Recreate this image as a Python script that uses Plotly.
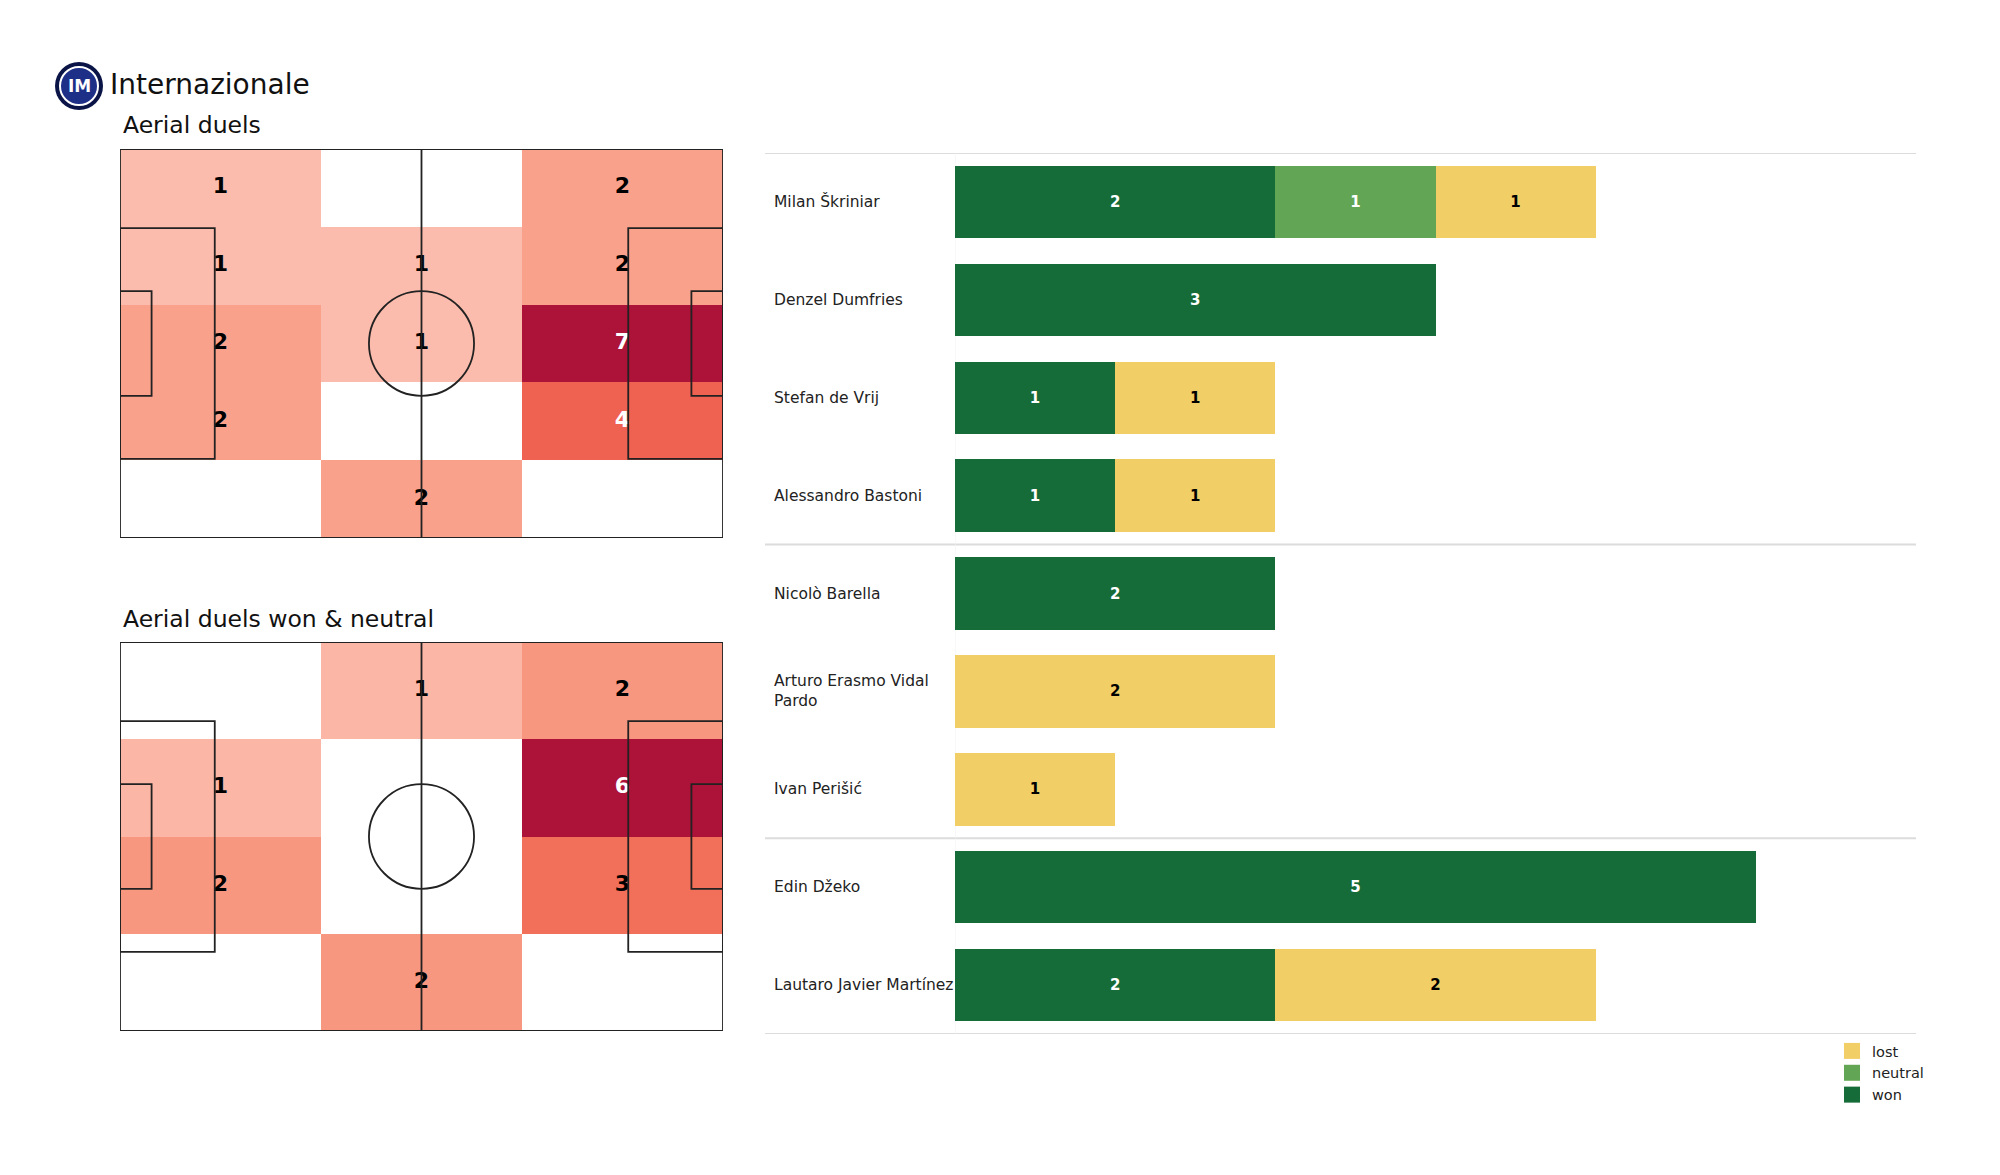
import textwrap
import numpy as np
import plotly.graph_objects as go

# ---------------- data ----------------
team = "Internazionale"
title_heat1 = "Aerial duels"
title_heat2 = "Aerial duels won & neutral"

# heatmap counts, rows listed top -> bottom, columns left -> right
duels_all = [
    [1, 0, 2],
    [1, 1, 2],
    [2, 1, 7],
    [2, 0, 4],
    [0, 2, 0],
]
duels_won_neutral = [
    [0, 1, 2],
    [1, 0, 6],
    [2, 0, 3],
    [0, 2, 0],
]

players = [
    "Milan Škriniar",
    "Denzel Dumfries",
    "Stefan de Vrij",
    "Alessandro Bastoni",
    "Nicolò Barella",
    "Arturo Erasmo Vidal Pardo",
    "Ivan Perišić",
    "Edin Džeko",
    "Lautaro Javier Martínez",
]
won = [2, 3, 1, 1, 2, 0, 0, 5, 2]
neutral = [1, 0, 0, 0, 0, 0, 0, 0, 0]
lost = [1, 0, 1, 1, 0, 2, 1, 0, 2]
group_sizes = [4, 3, 2]

# ---------------- styling ----------------
W, H = 2000, 1175
PAGE_OFF = 8  # body margin of the html page
FONT = "DejaVu Sans"
COL_WON = "#166c38"
COL_NEUTRAL = "#62a655"
COL_LOST = "#f1cf66"
PITCH_LEN, PITCH_WID = 105.0, 68.0
LINE_COL = "#222222"
HEAT_SCALE = [
    [0.0, "#fff1ec"],
    [0.15, "#fcb9aa"],
    [0.31, "#f99d85"],
    [0.5, "#f27059"],
    [0.571, "#ef6150"],
    [1.0, "#ad1238"],
]


def px_x(x):
    return (x - PAGE_OFF) / W


def px_y(y):
    return 1 - (y - PAGE_OFF) / H


fig = go.Figure()
shapes = []
annotations = []


def add_pitch(matrix, xa, ya):
    m = np.array(matrix, dtype=float)
    nrows, ncols = m.shape
    xe = np.linspace(0, PITCH_LEN, ncols + 1)
    ye = np.linspace(0, PITCH_WID, nrows + 1)
    z = m[::-1]  # rows given top->bottom; heatmap rows go bottom->top
    zmask = np.where(z > 0, z, np.nan)
    zmax = np.nanmax(zmask)
    fig.add_trace(go.Heatmap(
        x=xe, y=ye, z=zmask, zmin=0, zmax=zmax,
        colorscale=HEAT_SCALE, showscale=False, hoverinfo="skip",
        xaxis=xa, yaxis=ya,
    ))
    xc = (xe[:-1] + xe[1:]) / 2
    yc = (ye[:-1] + ye[1:]) / 2
    tx, ty, tt, tc = [], [], [], []
    for r in range(nrows):
        for c in range(ncols):
            v = z[r, c]
            if v > 0:
                tx.append(xc[c]); ty.append(yc[r]); tt.append(str(int(v)))
                tc.append("white" if v > 0.5 * zmax else "black")
    fig.add_trace(go.Scatter(
        x=tx, y=ty, text=tt, mode="text",
        textfont=dict(family=FONT, size=22, color=tc, weight="bold"),
        hoverinfo="skip", showlegend=False, xaxis=xa, yaxis=ya,
    ))
    L, Wd = PITCH_LEN, PITCH_WID
    line = dict(color=LINE_COL, width=1.8)
    xr, yr = xa, ya
    shapes.append(dict(type="rect", xref=xr, yref=yr, x0=0, x1=L, y0=0, y1=Wd, line=line))
    shapes.append(dict(type="line", xref=xr, yref=yr, x0=L / 2, x1=L / 2, y0=0, y1=Wd, line=line))
    shapes.append(dict(type="circle", xref=xr, yref=yr, x0=L / 2 - 9.15, x1=L / 2 + 9.15,
                       y0=Wd / 2 - 9.15, y1=Wd / 2 + 9.15, line=line))
    for (a, b) in [(0, 16.5), (L - 16.5, L)]:
        shapes.append(dict(type="rect", xref=xr, yref=yr, x0=a, x1=b,
                           y0=Wd / 2 - 20.16, y1=Wd / 2 + 20.16, line=line))
    for (a, b) in [(0, 5.5), (L - 5.5, L)]:
        shapes.append(dict(type="rect", xref=xr, yref=yr, x0=a, x1=b,
                           y0=Wd / 2 - 9.16, y1=Wd / 2 + 9.16, line=line))


add_pitch(duels_all, "x", "y")
add_pitch(duels_won_neutral, "x2", "y2")

# ---------------- bars ----------------
ypos = list(range(len(players)))
bar_specs = [
    ("won", won, COL_WON, "white"),
    ("neutral", neutral, COL_NEUTRAL, "white"),
    ("lost", lost, COL_LOST, "black"),
]
for name, vals, col, tcol in bar_specs:
    fig.add_trace(go.Bar(
        y=ypos, x=vals, orientation="h", width=0.74, name=name, showlegend=False,
        marker=dict(color=col, line=dict(width=0)),
        text=[str(v) if v else "" for v in vals],
        textposition="inside", insidetextanchor="middle", textangle=0,
        textfont=dict(family=FONT, size=15, color=tcol, weight="bold"),
        hoverinfo="skip", xaxis="x3", yaxis="y3",
    ))
# legend entries (square swatches), order lost, neutral, won
for name, vals, col, tcol in reversed(bar_specs):
    fig.add_trace(go.Scatter(
        x=[None], y=[None], mode="markers", name=name,
        marker=dict(symbol="square", size=16, color=col),
        xaxis="x3", yaxis="y3", hoverinfo="skip",
    ))

# separators
bounds = [-0.5] + list(np.cumsum(group_sizes) - 0.5)
for b in bounds:
    shapes.append(dict(type="line", xref="paper", yref="y3", x0=px_x(765), x1=px_x(1916),
                       y0=b, y1=b, line=dict(color="#dcdcdc", width=2), layer="below"))
shapes.append(dict(type="line", xref="x3", yref="y3", x0=0, x1=0, y0=-0.5, y1=len(players) - 0.5,
                   line=dict(color="#f2f2f2", width=1), layer="below"))

for i, p in enumerate(players):
    label = "<br>".join(textwrap.wrap(p, 23))
    annotations.append(dict(text=label, xref="paper", yref="y3", x=px_x(772), y=i,
                            xanchor="left", yanchor="middle", align="left", showarrow=False,
                            font=dict(family=FONT, size=15.5, color="#222222")))

# ---------------- titles & logo ----------------
annotations.append(dict(text=team, xref="paper", yref="paper", x=px_x(108), y=px_y(84),
                        xanchor="left", yanchor="middle", showarrow=False,
                        font=dict(family=FONT, size=28, color="#111111")))
annotations.append(dict(text=title_heat1, xref="paper", yref="paper", x=px_x(121), y=px_y(125),
                        xanchor="left", yanchor="middle", showarrow=False,
                        font=dict(family=FONT, size=23.5, color="#111111")))
annotations.append(dict(text=title_heat2, xref="paper", yref="paper", x=px_x(121), y=px_y(619),
                        xanchor="left", yanchor="middle", showarrow=False,
                        font=dict(family=FONT, size=23.5, color="#111111")))

cx, cy = 79, 86
for r, fill, lc, lw in [(24, "#0b1446", "#0b1446", 0), (19, "#1d2f86", "white", 2)]:
    shapes.append(dict(type="circle", xref="paper", yref="paper",
                       x0=px_x(cx - r), x1=px_x(cx + r), y0=px_y(cy + r), y1=px_y(cy - r),
                       fillcolor=fill, line=dict(color=lc, width=lw)))
annotations.append(dict(text="IM", xref="paper", yref="paper", x=px_x(cx), y=px_y(cy),
                        xanchor="center", yanchor="middle", showarrow=False,
                        font=dict(family=FONT, size=17, color="white", weight="bold")))

# ---------------- layout ----------------
ax_off = dict(visible=False, fixedrange=True)
fig.update_layout(
    width=W, height=H, margin=dict(l=0, r=0, t=0, b=0),
    paper_bgcolor="white", plot_bgcolor="rgba(0,0,0,0)",
    barmode="stack",
    xaxis=dict(domain=[px_x(120), px_x(723)], range=[0, PITCH_LEN], anchor="y", **ax_off),
    yaxis=dict(domain=[px_y(538), px_y(149)], range=[0, PITCH_WID], anchor="x", **ax_off),
    xaxis2=dict(domain=[px_x(120), px_x(723)], range=[0, PITCH_LEN], anchor="y2", **ax_off),
    yaxis2=dict(domain=[px_y(1031), px_y(642)], range=[0, PITCH_WID], anchor="x2", **ax_off),
    xaxis3=dict(domain=[px_x(955), px_x(1916)], range=[0, 6], anchor="y3", **ax_off),
    yaxis3=dict(domain=[px_y(1034), px_y(153)], range=[len(players) - 0.5, -0.5], anchor="x3", **ax_off),
    shapes=shapes, annotations=annotations,
    showlegend=True,
    legend=dict(x=px_x(1832), y=px_y(1035), xanchor="left", yanchor="top",
                traceorder="normal", bgcolor="rgba(0,0,0,0)",
                font=dict(family=FONT, size=14.5, color="#222222"),
                itemwidth=30, tracegroupgap=0),
    font=dict(family=FONT),
)

fig.write_html("out.html")
